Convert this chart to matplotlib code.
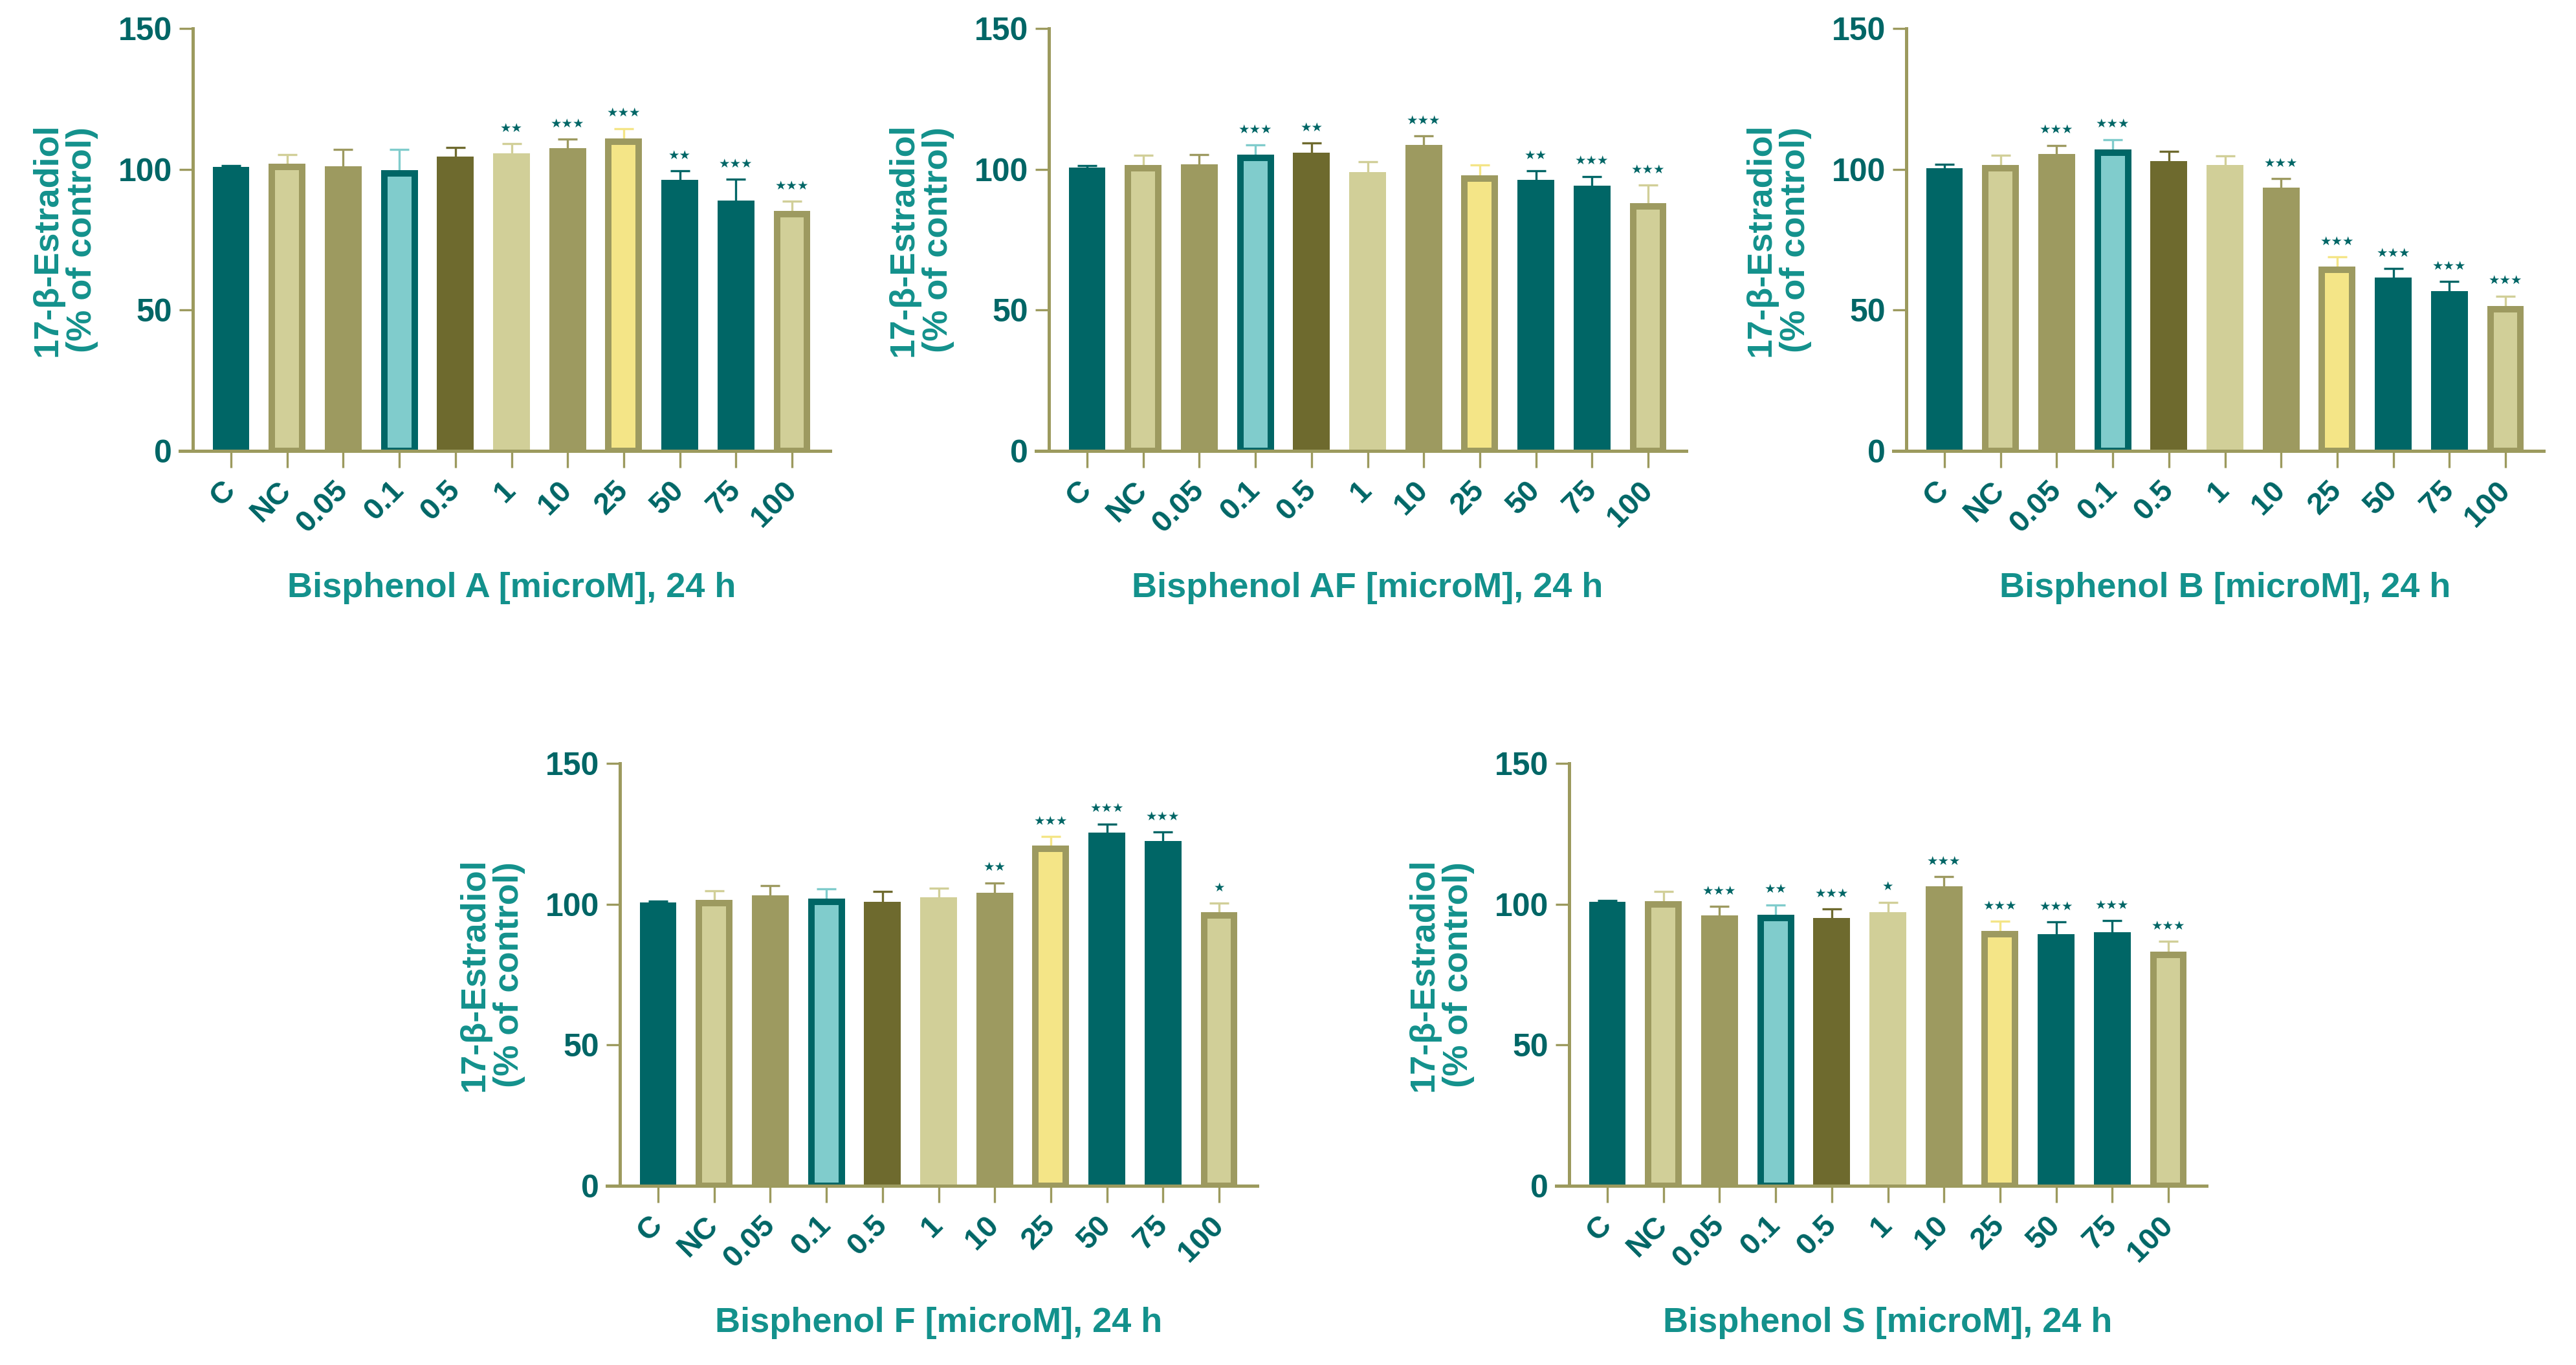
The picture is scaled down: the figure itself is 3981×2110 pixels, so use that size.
import numpy as np
import matplotlib
matplotlib.use("Agg")
import matplotlib.pyplot as plt
from matplotlib.transforms import blended_transform_factory

plt.rcParams['font.family'] = ['Liberation Sans', 'DejaVu Sans']
plt.rcParams['font.weight'] = 'bold'

# data
categories = ['C', 'NC', '0.05', '0.1', '0.5', '1', '10', '25', '50', '75', '100']

bpa_mean = [99.7, 100.8, 100.0, 98.6, 103.4, 104.5, 106.3, 109.8, 95.1, 87.7, 84.1]
bpa_err = [1.6, 4.5, 7.0, 8.5, 4.3, 4.6, 4.4, 4.7, 4.3, 8.7, 4.5]
bpa_stars = ['', '', '', '', '', '**', '***', '***', '**', '***', '***']

bpaf_mean = [99.4, 100.4, 100.7, 104.0, 104.7, 97.9, 107.4, 96.8, 95.1, 93.0, 86.9]
bpaf_err = [2.0, 4.6, 4.6, 4.6, 4.6, 4.7, 4.4, 4.7, 4.3, 4.5, 7.5]
bpaf_stars = ['', '', '', '***', '**', '', '***', '', '**', '***', '***']

bpb_mean = [99.3, 100.3, 104.2, 106.0, 101.7, 100.3, 92.3, 64.3, 60.3, 55.6, 50.4]
bpb_err = [2.4, 4.6, 4.3, 4.6, 4.6, 4.4, 4.4, 4.5, 4.5, 4.6, 4.6]
bpb_stars = ['', '', '***', '***', '', '', '***', '***', '***', '***', '***']

bpf_mean = [99.4, 100.3, 102.0, 100.8, 99.8, 101.3, 103.0, 119.6, 124.2, 121.4, 96.0]
bpf_err = [1.7, 4.5, 4.6, 4.6, 4.7, 4.4, 4.6, 4.4, 4.3, 4.2, 4.4]
bpf_stars = ['', '', '', '', '', '', '**', '***', '***', '***', '*']

bps_mean = [99.7, 100.0, 94.9, 95.2, 93.9, 96.1, 105.3, 89.3, 88.3, 88.9, 81.9]
bps_err = [1.7, 4.5, 4.3, 4.6, 4.4, 4.6, 4.5, 4.6, 5.4, 5.3, 4.9]
bps_stars = ['', '', '***', '**', '***', '*', '***', '***', '***', '***', '***']

# colours
TEAL = '#006666'
KHAKI = '#d1cf98'
OLIVE = '#9d9a60'
CYAN = '#80cccc'
DKOLIVE = '#6e6a2e'
YELLOW = '#f4e587'
AXIS = '#9c9a5e'
LABEL = '#13918c'

face_colors = [TEAL, KHAKI, OLIVE, CYAN, DKOLIVE, KHAKI, OLIVE, YELLOW, TEAL, TEAL, KHAKI]
edge_colors = [TEAL, OLIVE, OLIVE, TEAL, DKOLIVE, KHAKI, OLIVE, OLIVE, TEAL, TEAL, OLIVE]

W, H = 3981, 2110
UNIT = 86.7  # px per category


def draw_panel(c_tick_px, zero_px, means, errs, stars, xlabel):
    left = (c_tick_px - 0.91 * UNIT) / W
    width = 11.59 * UNIT / W
    bottom = (H - zero_px) / H
    height = 653 / H
    ax = fig.add_axes([left, bottom, width, height])
    x = np.arange(len(categories))

    for i in range(len(x)):
        ax.errorbar(x[i], means[i], yerr=[[0], [errs[i]]], fmt='none',
                    ecolor=face_colors[i], elinewidth=2.4, capsize=10.5,
                    capthick=2.4, zorder=1)
    ax.bar(x, means, width=0.54, color=face_colors, edgecolor=edge_colors,
           linewidth=7.2, zorder=2)

    for i, s in enumerate(stars):
        if s:
            ax.text(x[i], means[i] + errs[i] + 5.5, '\u2605' * len(s),
                    ha='center', va='center', fontsize=14, color=TEAL,
                    family=['DejaVu Sans'])

    ax.set_xlim(-0.91, 10.68)
    ax.set_ylim(0, 150)
    ax.spines['top'].set_visible(False)
    ax.spines['right'].set_visible(False)
    ax.spines['left'].set_position(('data', -0.68))
    for sp in ('left', 'bottom'):
        ax.spines[sp].set_color(AXIS)
        ax.spines[sp].set_linewidth(3.6)

    ax.set_yticks([0, 50, 100, 150])
    ax.tick_params(axis='y', length=15, width=2.4, color=AXIS, pad=8,
                   labelsize=36, labelcolor=TEAL)
    ax.set_xticks(x)
    ax.set_xticklabels(categories, rotation=45, ha='right', va='center',
                       rotation_mode='anchor')
    ax.tick_params(axis='x', length=19, width=2.4, color=AXIS, pad=20,
                   labelsize=34, labelcolor=TEAL)
    for lab in ax.get_xticklabels() + ax.get_yticklabels():
        lab.set_fontweight('bold')

    tr = blended_transform_factory(ax.transData, ax.transAxes)
    ax.text(5, -0.325, xlabel, transform=tr, ha='center', va='center',
            fontsize=39, fontweight='bold', color=LABEL)
    ax.text(-2.96, 0.5, '17-\u03b2-Estradiol\n(% of control)', transform=tr,
            rotation=90, ha='center', va='center', multialignment='center',
            linespacing=1.1, fontsize=39, fontweight='bold', color=LABEL)
    return ax


fig = plt.figure(figsize=(W / 100, H / 100), dpi=100)

draw_panel(357, 697, bpa_mean, bpa_err, bpa_stars, 'Bisphenol A [microM], 24 h')
draw_panel(1680, 697, bpaf_mean, bpaf_err, bpaf_stars, 'Bisphenol AF [microM], 24 h')
draw_panel(3005, 697, bpb_mean, bpb_err, bpb_stars, 'Bisphenol B [microM], 24 h')
draw_panel(1017, 1833, bpf_mean, bpf_err, bpf_stars, 'Bisphenol F [microM], 24 h')
draw_panel(2484, 1833, bps_mean, bps_err, bps_stars, 'Bisphenol S [microM], 24 h')

fig.savefig('out.png', dpi=100, facecolor='white')
